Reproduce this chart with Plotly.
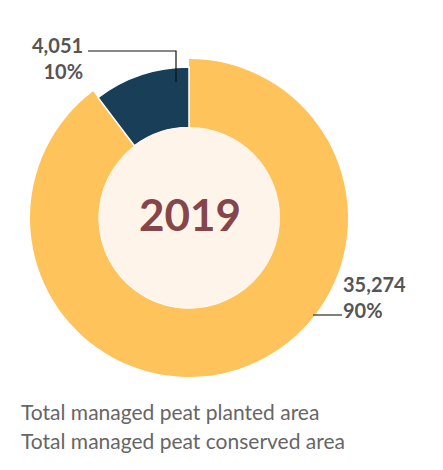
import plotly.graph_objects as go

categories = ["Total managed peat planted area", "Total managed peat conserved area"]
values = [35274, 4051]
percent_labels = ["90%", "10%"]
value_labels = ["35,274", "4,051"]
year_label = "2019"

YELLOW = "#FEC35B"
DARK = "#193E58"
CREAM = "#FEF4E9"
GRAY = "#555555"
OFF = 8  # page body margin
W, H = 443 - 2 * OFF, 470 - 2 * OFF

def px(x):
    return (x - OFF) / W

def py(y):
    return 1 - (y - OFF) / H

fig = go.Figure()
# outer (planted) ring
fig.add_trace(go.Pie(
    labels=categories, values=values, sort=False, direction="clockwise", rotation=0,
    hole=0.57, textinfo="none", hoverinfo="label+value",
    marker=dict(colors=[YELLOW, "rgba(0,0,0,0)"], line=dict(width=0)),
    domain=dict(x=[px(30), px(348)], y=[py(377), py(59)]), showlegend=False,
))
# conserved slice, slightly smaller radius
fig.add_trace(go.Pie(
    labels=categories, values=values, sort=False, direction="clockwise", rotation=0,
    hole=0.6, textinfo="none", hoverinfo="label+value",
    marker=dict(colors=["rgba(0,0,0,0)", DARK], line=dict(color="white", width=[0, 1.5])),
    domain=dict(x=[px(38), px(340)], y=[py(369), py(67)]), showlegend=False,
))

shapes = [
    dict(type="circle", xref="paper", yref="paper", x0=px(99), x1=px(280), y0=py(308), y1=py(127),
         fillcolor=CREAM, line=dict(width=0), layer="above"),
    dict(type="path", xref="paper", yref="paper",
         path=f"M {px(88)} {py(51)} L {px(176)} {py(51)} L {px(176)} {py(82)}",
         line=dict(color="#111111", width=1.2)),
    dict(type="line", xref="paper", yref="paper", x0=px(313), x1=px(342), y0=py(315), y1=py(315),
         line=dict(color=GRAY, width=1.5)),
]

annotations = [
    dict(text=f"<b>{year_label}</b>", x=px(190), y=py(214), xref="paper", yref="paper",
         showarrow=False, font=dict(family="Lato", size=44, color="#85464A")),
    dict(text=f"<b>{value_labels[1]}</b><br><b>{percent_labels[1]}</b>", x=px(85), y=py(31),
         xref="paper", yref="paper", showarrow=False, xanchor="right", align="right",
         font=dict(family="Lato", size=20, color=GRAY)),
    dict(text=f"<b>{value_labels[0]}</b><br><b>{percent_labels[0]}</b>", x=px(341), y=py(297),
         xref="paper", yref="paper", showarrow=False, xanchor="left", align="left",
         font=dict(family="Lato", size=20, color=GRAY)),
    dict(text=categories[0], x=px(19), y=py(426), xref="paper", yref="paper", showarrow=False,
         xanchor="left", font=dict(family="Lato", size=21, color="#666666")),
    dict(text=categories[1], x=px(19), y=py(455), xref="paper", yref="paper", showarrow=False,
         xanchor="left", font=dict(family="Lato", size=21, color="#666666")),
]

fig.update_layout(
    width=W, height=H, margin=dict(l=0, r=0, t=0, b=0),
    paper_bgcolor="white", plot_bgcolor="white",
    shapes=shapes, annotations=annotations, showlegend=False,
)

fig.write_html("out.html")
